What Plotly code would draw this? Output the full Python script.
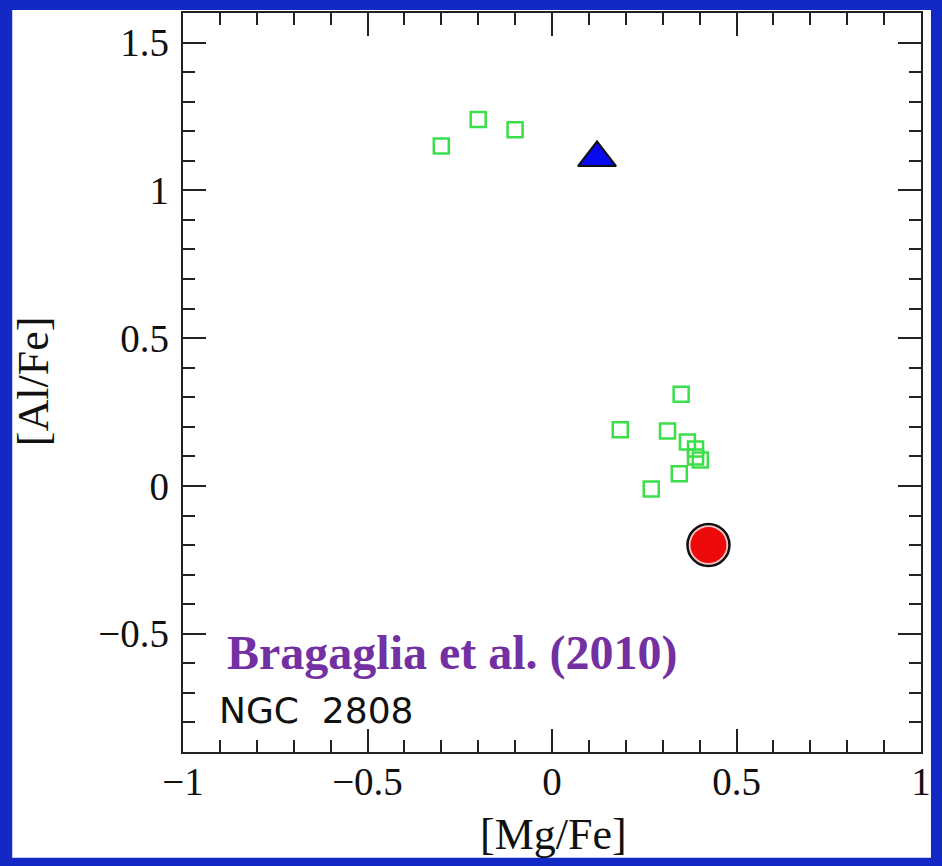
import plotly.graph_objects as go

# NGC 2808 giants: [Mg/Fe] vs [Al/Fe]
mg_fe_stars = [-0.30, -0.20, -0.10, 0.35, 0.185, 0.313, 0.367, 0.389, 0.389, 0.402, 0.345, 0.269]
al_fe_stars = [1.15, 1.24, 1.205, 0.31, 0.19, 0.186, 0.149, 0.125, 0.098, 0.088, 0.041, -0.01]

# highlighted objects
mg_fe_triangle = [0.122]
al_fe_triangle = [1.11]
mg_fe_circle = [0.424]
al_fe_circle = [-0.20]

x_ticks = [-1, -0.5, 0, 0.5, 1]
y_ticks = [-0.5, 0, 0.5, 1, 1.5]

BLUE_BG = "#1329C6"
GREEN = "#3ADF4A"


def tick_text(values):
    return [f"{v:g}".replace("-", "\u2212") for v in values]


fig = go.Figure()

fig.add_trace(go.Scatter(
    x=mg_fe_stars, y=al_fe_stars, mode="markers",
    marker=dict(symbol="square-open", size=15, color=GREEN,
                line=dict(color=GREEN, width=2.5)),
    hoverinfo="x+y", showlegend=False,
))

fig.add_trace(go.Scatter(
    x=mg_fe_triangle, y=al_fe_triangle, mode="markers",
    marker=dict(symbol="triangle-up", size=33, color="#0A0AEE",
                line=dict(color="#111111", width=2)),
    showlegend=False,
))

# circle: black ring with a thin pale gap around the red disc
fig.add_trace(go.Scatter(
    x=mg_fe_circle, y=al_fe_circle, mode="markers",
    marker=dict(symbol="circle", size=42, color="#F6C9C9",
                line=dict(color="#111111", width=2.5)),
    showlegend=False, hoverinfo="skip",
))
fig.add_trace(go.Scatter(
    x=mg_fe_circle, y=al_fe_circle, mode="markers",
    marker=dict(symbol="circle", size=36, color="#EE0A0A",
                line=dict(width=0)),
    showlegend=False,
))

axis_common = dict(
    showline=True, linecolor="#222222", linewidth=2.2, mirror="allticks",
    ticks="inside", ticklen=23, tickwidth=2, tickcolor="#222222",
    showgrid=False, zeroline=False,
    tickfont=dict(family="Liberation Serif", size=39, color="#111111"),
    minor=dict(ticks="inside", ticklen=12, tickwidth=2, tickcolor="#222222",
               dtick=0.1, showgrid=False),
)

fig.update_xaxes(range=[-1, 1], tickvals=x_ticks, ticktext=tick_text(x_ticks),
                 ticklabelstandoff=-6, **axis_common)
fig.update_yaxes(range=[-0.9, 1.6], tickvals=y_ticks, ticktext=tick_text(y_ticks),
                 ticklabelstandoff=4, **axis_common)

fig.update_layout(
    width=942, height=866,
    margin=dict(l=183, r=20, t=11, b=114),
    paper_bgcolor=BLUE_BG, plot_bgcolor="white",
    shapes=[dict(type="rect", xref="paper", yref="paper",
                 x0=-0.2314, x1=1.0135, y0=-0.143, y1=1.004,
                 fillcolor="white", line=dict(width=0), layer="below")],
    annotations=[
        dict(text="[Mg/Fe]", xref="paper", yref="paper", x=0.502, y=-0.112,
             showarrow=False, xanchor="center", yanchor="middle",
             font=dict(family="Liberation Serif", size=44, color="#111111")),
        dict(text="[Al/Fe]", xref="paper", yref="paper", x=-0.203, y=0.502,
             showarrow=False, xanchor="center", yanchor="middle", textangle=-90,
             font=dict(family="Liberation Serif", size=44, color="#111111")),
        dict(text="<b>Bragaglia et al. (2010)</b>", x=-0.27, y=-0.565,
             showarrow=False, xanchor="center", yanchor="middle",
             font=dict(family="Liberation Serif", size=48, color="#7330A2")),
        dict(text="NGC\u00a0\u00a02808", x=-0.64, y=-0.76,
             showarrow=False, xanchor="center", yanchor="middle",
             font=dict(family="DejaVu Sans", size=36, color="#111111")),
    ],
)

fig.write_html("out.html")
